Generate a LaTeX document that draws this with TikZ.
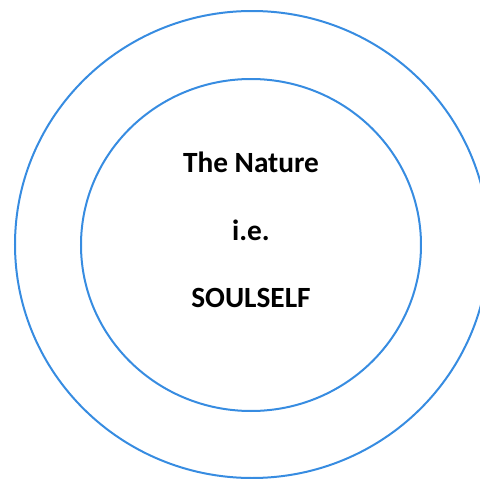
\documentclass[tikz,border=0pt]{standalone}
\usepackage{fontspec}
\setmainfont{Carlito}
\begin{document}
\begin{tikzpicture}[x=0.75pt,y=-0.75pt]
			\definecolor{myblue}{RGB}{55, 140, 225}
			\tikzset{ring/.style={draw=myblue, line width=1.5pt},
				lbl/.style={anchor=base, font=\fontsize{22}{26}\selectfont\bfseries}}
			\useasboundingbox (0,0) rectangle (480,479);
			\draw[ring] (252,244.5) ellipse [x radius=237, y radius=233.5];
			\draw[ring] (251,245) ellipse [x radius=170, y radius=166];
			\node[lbl] (nature) at (251,172) {The Nature};
			\node[lbl] (ie) at (251,240) {i.e.};
			\node[lbl] (soulself) at (251,307) {SOULSELF};
		\end{tikzpicture}
\end{document}
